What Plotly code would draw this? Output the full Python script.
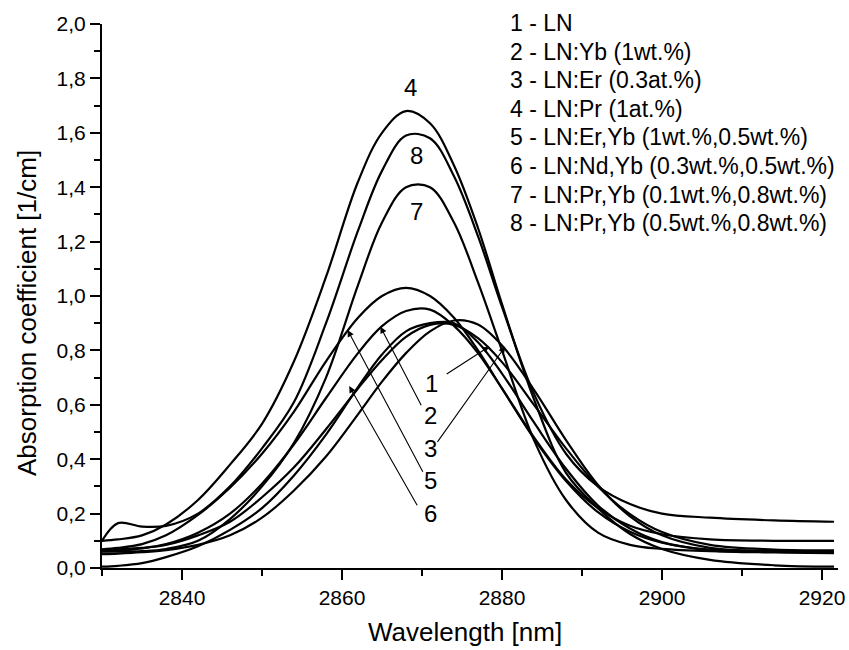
import plotly.graph_objects as go

# wavelength grid (nm) shared by all curves
wl = [2830, 2832, 2835, 2838, 2842, 2846, 2850, 2854, 2858, 2862, 2865, 2868,
      2871, 2874, 2877, 2880, 2884, 2888, 2892, 2896, 2900, 2906, 2914, 2921.5]

# absorption coefficient [1/cm]
ln_1 = [0.067, 0.069, 0.074, 0.085, 0.12, 0.17, 0.26, 0.37, 0.51, 0.66, 0.765, 0.85,
        0.894, 0.894, 0.845, 0.757, 0.60, 0.44, 0.30, 0.198, 0.132, 0.085, 0.068, 0.065]
ln_yb_2 = [0.062, 0.064, 0.072, 0.088, 0.13, 0.20, 0.31, 0.455, 0.625, 0.79, 0.889, 0.945,
           0.95, 0.89, 0.79, 0.66, 0.48, 0.325, 0.22, 0.155, 0.124, 0.105, 0.10, 0.10]
ln_er_3 = [0.051, 0.053, 0.058, 0.066, 0.085, 0.12, 0.185, 0.285, 0.41, 0.565, 0.685, 0.79,
           0.87, 0.91, 0.895, 0.818, 0.655, 0.47, 0.305, 0.19, 0.12, 0.074, 0.062, 0.06]
ln_pr_4 = [0.10, 0.105, 0.12, 0.16, 0.25, 0.38, 0.53, 0.76, 1.07, 1.42, 1.60, 1.68,
           1.635, 1.48, 1.25, 0.97, 0.62, 0.35, 0.22, 0.125, 0.07, 0.03, 0.01, 0.005]
ln_er_yb_5 = [0.069, 0.074, 0.088, 0.12, 0.195, 0.295, 0.42, 0.575, 0.76, 0.92, 1.0, 1.03,
              1.00, 0.92, 0.80, 0.66, 0.476, 0.32, 0.205, 0.133, 0.093, 0.068, 0.062, 0.06]
ln_nd_yb_6 = [0.005, 0.008, 0.018, 0.04, 0.08, 0.14, 0.22, 0.34, 0.49, 0.665, 0.785, 0.87,
              0.90, 0.90, 0.83, 0.715, 0.535, 0.365, 0.23, 0.145, 0.095, 0.065, 0.057, 0.055]
ln_pr_yb_7 = [0.06, 0.06, 0.062, 0.07, 0.10, 0.18, 0.30, 0.46, 0.70, 1.04, 1.27, 1.40,
              1.40, 1.27, 1.05, 0.80, 0.47, 0.25, 0.13, 0.085, 0.07, 0.062, 0.06, 0.06]
ln_pr_yb_8 = [0.10, 0.165, 0.152, 0.155, 0.20, 0.30, 0.44, 0.61, 0.90, 1.24, 1.46, 1.59,
              1.58, 1.44, 1.22, 0.96, 0.64, 0.42, 0.30, 0.235, 0.20, 0.185, 0.175, 0.17]

samples = [
    "1 - LN",
    "2 - LN:Yb (1wt.%)",
    "3 - LN:Er (0.3at.%)",
    "4 - LN:Pr (1at.%)",
    "5 - LN:Er,Yb (1wt.%,0.5wt.%)",
    "6 - LN:Nd,Yb (0.3wt.%,0.5wt.%)",
    "7 - LN:Pr,Yb (0.1wt.%,0.8wt.%)",
    "8 - LN:Pr,Yb (0.5wt.%,0.8wt.%)",
]
series = [ln_1, ln_yb_2, ln_er_3, ln_pr_4, ln_er_yb_5, ln_nd_yb_6, ln_pr_yb_7, ln_pr_yb_8]

# curve numbers placed on the peaks (label, wavelength, value)
peak_labels = [("4", 2868.5, 1.765), ("8", 2869.3, 1.518), ("7", 2869.3, 1.31)]
# numbered arrows: label, label pos, arrow tail, arrow tip
arrow_labels = [
    ("1", (2871.2, 0.679), (2872.9, 0.71), (2878.4, 0.814)),
    ("2", (2871.0, 0.5625), (2870.0, 0.593), (2864.8, 0.887)),
    ("3", (2871.0, 0.44), (2871.8, 0.458), (2880.4, 0.814)),
    ("5", (2871.0, 0.3235), (2870.2, 0.348), (2860.7, 0.875)),
    ("6", (2871.0, 0.201), (2869.5, 0.225), (2860.9, 0.669)),
]

font = "Liberation Sans, Arial, sans-serif"

fig = go.Figure()
for name, vals in zip(samples, series):
    fig.add_trace(go.Scatter(
        x=wl, y=vals, mode='lines', name=name,
        line=dict(color='black', width=2.2, shape='spline', smoothing=1.0),
        showlegend=False
    ))

ann = []
for txt, x, y in peak_labels:
    ann.append(dict(x=x, y=y, xref='x', yref='y', text=txt, showarrow=False,
                    font=dict(size=24, color='black', family=font)))
for txt, (lx, ly), (tx, ty), (hx, hy) in arrow_labels:
    ann.append(dict(x=lx, y=ly, xref='x', yref='y', text=txt, showarrow=False,
                    font=dict(size=24, color='black', family=font)))
    ann.append(dict(x=hx, y=hy, xref='x', yref='y', ax=tx, ay=ty,
                    axref='x', ayref='y', text='', showarrow=True,
                    arrowhead=2, arrowsize=1.2, arrowwidth=1.1, arrowcolor='black'))

# legend block top right, one line each (pixel rows 23 + 28.6*i)
for i, s in enumerate(samples):
    ypix = 23 + 28.6 * i
    ann.append(dict(x=(508 - 102) / 736, y=(568 - ypix) / 544, xref='paper', yref='paper',
                    xanchor='left', yanchor='middle', showarrow=False, text=s,
                    font=dict(size=23, color='black', family=font)))

# axis titles placed as annotations (y title sits a bit below the plot middle)
ann.append(dict(x=(465 - 102) / 736, y=(568 - 632) / 544, xref='paper', yref='paper',
                xanchor='center', yanchor='middle', showarrow=False, text='Wavelength [nm]',
                font=dict(size=26, color='black', family=font)))
ann.append(dict(x=(27 - 102) / 736, y=(568 - 313) / 544, xref='paper', yref='paper',
                xanchor='center', yanchor='middle', showarrow=False, textangle=-90,
                text='Absorption coefficient [1/cm]',
                font=dict(size=26, color='black', family=font)))

fig.update_layout(
    width=849, height=650,
    margin=dict(l=102, r=11, t=24, b=82, autoexpand=False),
    paper_bgcolor='white', plot_bgcolor='white',
    separators=',.',
    font=dict(family=font, color='black', size=21),
    annotations=ann,
    xaxis=dict(
        range=[2830, 2922], tickvals=[2840, 2860, 2880, 2900, 2920],
        ticks='outside', ticklen=10, tickwidth=2, tickcolor='black',
        minor=dict(tickvals=[2830, 2850, 2870, 2890, 2910], ticks='outside', ticklen=6,
                   tickwidth=2, tickcolor='black'),
        showline=True, linecolor='black', linewidth=2, showgrid=False, zeroline=False,
        tickfont=dict(size=21), automargin=False,
    ),
    yaxis=dict(
        range=[0, 2.0], dtick=0.2, tickformat='.1f',
        ticks='outside', ticklen=10, tickwidth=2, tickcolor='black',
        minor=dict(dtick=0.1, ticks='outside', ticklen=6, tickwidth=2, tickcolor='black'),
        showline=True, linecolor='black', linewidth=2, showgrid=False, zeroline=False,
        tickfont=dict(size=21), automargin=False,
    ),
)

# page body has a default 8px margin; drop it so the figure sits at the window corner
fig.write_html("out.html", config={'displayModeBar': False},
               post_script="document.body.style.margin='0px';")
